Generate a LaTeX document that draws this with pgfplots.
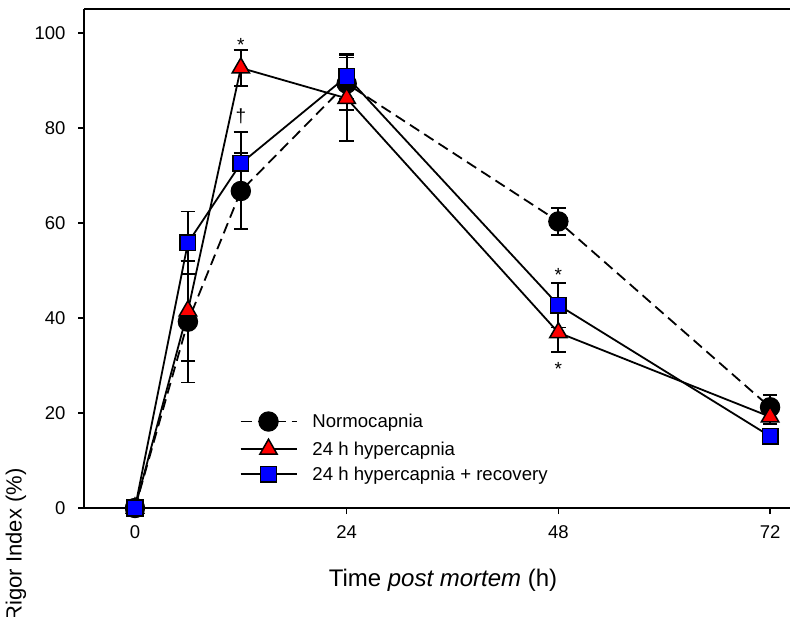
\documentclass[border=0pt]{standalone}
\usepackage{pgfplots}
\usepackage{pgfplotstable}
\pgfplotsset{compat=1.18}
\usepackage{fontspec}
\setmainfont{Liberation Sans}

% time (h), mean rigor index (%), error
\pgfplotstableread{
t y e
0 0 0
6 39.2 12.8
12 66.7 8.0
24 89.3 5.5
48 60.3 2.8
72 21.2 2.6
}\normo
\pgfplotstableread{
t y e
0 0 0
6 41.5 10.5
12 92.6 3.8
24 86.2 9.0
48 36.9 4.1
72 19.2 1.5
}\hyper
\pgfplotstableread{
t y e
0 0 0
6 55.8 6.6
12 72.5 6.7
24 90.8 4.8
48 42.7 4.7
72 15.1 1.5
}\recov

\pgfplotsset{
  ebars/.style={
    error bars/.cd, y dir=both, y explicit,
    error bar style={line width=1.8pt, black, solid},
    error mark options={rotate=90, mark size=7.3pt, line width=1.8pt, black, solid},
  },
}

\begin{document}
\begin{tikzpicture}[x=1pt,y=1pt]
\useasboundingbox (0,0) rectangle (790,616);
\begin{axis}[
  at={(84pt,108pt)}, anchor=south west,
  scale only axis, width=706pt, height=499pt,
  xmin=-5.78, xmax=74.26, ymin=0, ymax=105,
  axis x line*=bottom, axis y line*=left,
  axis line style={line width=1.8pt, -},
  clip=false,
  xtick={0,24,48,72}, ytick={0,20,...,100},
  tick align=outside, major tick length=6pt,
  tick style={line width=1.5pt, black},
  /pgf/number format/assume math mode=true,
  ticklabel style={font=\fontsize{18.5}{21}\selectfont},
  xticklabel style={yshift=-8pt},
  yticklabel style={xshift=-9pt},
  xlabel={Time \textit{post mortem} (h)},
  ylabel={Rigor Index (\%)},
  every axis x label/.style={at={(rel axis cs:0.5085,-0.158)}, anchor=base,
    font=\fontsize{24}{28}\selectfont},
  every axis y label/.style={at={(rel axis cs:-0.0963,-0.0741)}, rotate=90, anchor=center,
    font=\fontsize{22}{26}\selectfont},
  legend style={draw=none, fill=none, at={(axis cs:11.5,20.7)}, anchor=north west,
    font=\fontsize{18.6}{21}\selectfont, row sep=8pt,
    nodes={inner sep=1pt},
    /tikz/every odd column/.append style={column sep=14pt}},
  legend cell align=left,
  legend image code/.code={\draw[#1, mark repeat=2, mark phase=2]
    plot coordinates {(0pt,0pt) (28pt,0pt) (56pt,0pt)};},
]
\addplot[black, line width=1.8pt, dash pattern=on 11pt off 6pt,
  mark=*, mark size=9.7pt, mark options={solid, fill=black, line width=1pt}, ebars]
  table[x=t, y=y, y error=e] {\normo};
\addlegendentry{Normocapnia}
\addplot[black, line width=1.8pt,
  mark=triangle*, mark size=10pt, mark options={fill=red, line width=1.5pt}, ebars]
  table[x=t, y=y, y error=e] {\hyper};
\addlegendentry{24 h hypercapnia}
\addplot[black, line width=1.8pt,
  mark=square*, mark size=7.8pt, mark options={fill=blue, line width=1.5pt}, ebars]
  table[x=t, y=y, y error=e] {\recov};
\addlegendentry{24 h hypercapnia + recovery}

% significance markers
\node[font=\fontsize{19}{21}\selectfont] at (axis cs:12,97.5) {*};
\node[font=\fontsize{19}{21}\selectfont] at (axis cs:12,82.4) {†};
\node[font=\fontsize{19}{21}\selectfont] at (axis cs:48,49.0) {*};
\node[font=\fontsize{19}{21}\selectfont] at (axis cs:48,29.2) {*};

% top frame line
\draw[line width=1.8pt] (rel axis cs:0,1) -- (rel axis cs:1,1);
\end{axis}
\end{tikzpicture}
\end{document}
